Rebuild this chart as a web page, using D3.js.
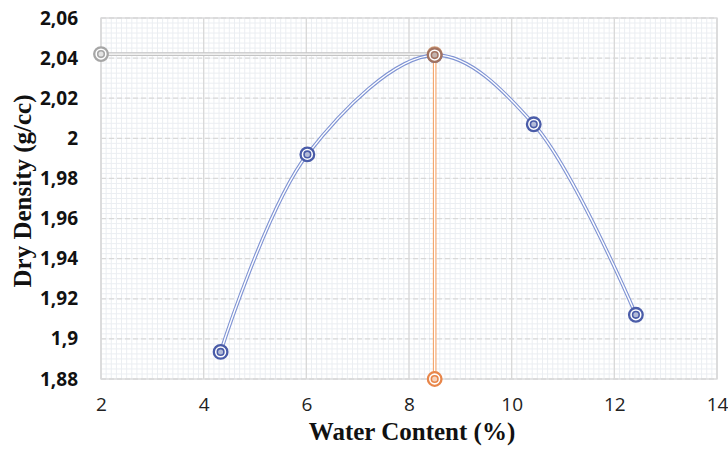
<!DOCTYPE html>
<html>
<head>
<meta charset="utf-8">
<script src="https://cdn.jsdelivr.net/npm/d3@7"></script>
<style>
  body { margin: 0; background: #fff; }
  svg { display: block; }
</style>
</head>
<body>
<svg id="chart" width="728" height="452"></svg>
<script>
'use strict';

// compaction test points
var waterContent = [4.33, 6.02, 8.5, 10.43, 12.42];
var dryDensity = [1.8935, 1.992, 2.0415, 2.007, 1.912];

// optimum water content guide (vertical) and max dry density guide (horizontal)
var omcX = [8.5, 8.5];
var omcY = [2.0415, 1.88];
var mddX = [2, 8.5];
var mddY = [2.042, 2.042];

var xTicks = [2, 4, 6, 8, 10, 12, 14];
var yTicks = [1.88, 1.9, 1.92, 1.94, 1.96, 1.98, 2, 2.02, 2.04, 2.06];

var xTitle = 'Water Content (%)';
var yTitle = 'Dry Density (g/cc)';

var svg = d3.select('#chart'),
    box = { left: 101, right: 717, top: 18, bottom: 379 };

var x = d3.scaleLinear().domain([2, 14]).range([box.left, box.right]),
    y = d3.scaleLinear().domain([1.88, 2.06]).range([box.bottom, box.top]);

function fmt(v){
    return String(+v.toFixed(2)).replace('.', ',');
}

// minor grid
var minorX = d3.range(2, 14.0001, 0.1),
    minorY = d3.range(1.88, 2.0601, 0.0025);

svg.append('g').attr('class', 'minor-x')
    .selectAll('line').data(minorX).enter().append('line')
    .attr('x1', function(d){ return x(d); })
    .attr('x2', function(d){ return x(d); })
    .attr('y1', box.top).attr('y2', box.bottom)
    .attr('stroke', '#ebeef2').attr('stroke-width', 1);

svg.append('g').attr('class', 'minor-y')
    .selectAll('line').data(minorY).enter().append('line')
    .attr('x1', box.left).attr('x2', box.right)
    .attr('y1', function(d){ return y(d); })
    .attr('y2', function(d){ return y(d); })
    .attr('stroke', '#ebeef2').attr('stroke-width', 1);

// major grid: solid verticals, dashed horizontals
svg.append('g')
    .selectAll('line').data(xTicks).enter().append('line')
    .attr('x1', function(d){ return x(d); })
    .attr('x2', function(d){ return x(d); })
    .attr('y1', box.top).attr('y2', box.bottom)
    .attr('stroke', '#d9d9d9').attr('stroke-width', 1.3);

svg.append('g')
    .selectAll('line').data(yTicks).enter().append('line')
    .attr('x1', box.left).attr('x2', box.right)
    .attr('y1', function(d){ return y(d); })
    .attr('y2', function(d){ return y(d); })
    .attr('stroke', '#d9d9d9').attr('stroke-width', 1.3)
    .attr('stroke-dasharray', '5,3');

svg.append('rect')
    .attr('x', box.left).attr('y', box.top)
    .attr('width', box.right - box.left).attr('height', box.bottom - box.top)
    .attr('fill', 'none').attr('stroke', '#d9d9d9').attr('stroke-width', 1.3);

// axes (labels only)
var xAxis = svg.append('g')
    .attr('transform', 'translate(0,' + (box.bottom + 15) + ')')
    .call(d3.axisBottom(x).tickValues(xTicks).tickFormat(fmt).tickSize(0));
xAxis.select('.domain').remove();
xAxis.selectAll('text')
    .attr('font-family', '"Open Sans", "Liberation Sans", sans-serif')
    .attr('font-size', 19).attr('fill', '#222');

var yAxis = svg.append('g')
    .attr('transform', 'translate(' + (box.left - 20) + ',0)')
    .call(d3.axisLeft(y).tickValues(yTicks).tickFormat(fmt).tickSize(0));
yAxis.select('.domain').remove();
yAxis.selectAll('text')
    .attr('font-family', '"Open Sans", "Liberation Sans", sans-serif')
    .attr('font-weight', 'bold')
    .attr('font-size', 19).attr('fill', '#111');

// titles
svg.append('text')
    .attr('x', 412).attr('y', 440)
    .attr('text-anchor', 'middle')
    .attr('font-family', '"Liberation Serif", "Times New Roman", serif')
    .attr('font-weight', 'bold').attr('font-size', 25)
    .attr('fill', '#111')
    .text(xTitle);

svg.append('text')
    .attr('transform', 'translate(31,191) rotate(-90)')
    .attr('text-anchor', 'middle')
    .attr('font-family', '"Liberation Serif", "Times New Roman", serif')
    .attr('font-weight', 'bold').attr('font-size', 25)
    .attr('fill', '#111')
    .text(yTitle);

// double (compound) line helper
function doubleLine( xs, ys, color, curve ){
    var pts = xs.map(function(d, i){ return [d, ys[i]]; }),
        line = d3.line()
            .x(function(d){ return x(d[0]); })
            .y(function(d){ return y(d[1]); })
            .curve(curve || d3.curveLinear);
    var g = svg.append('g');
    g.append('path').datum(pts).attr('d', line)
        .attr('fill', 'none').attr('stroke', color).attr('stroke-width', 3.6);
    g.append('path').datum(pts).attr('d', line)
        .attr('fill', 'none').attr('stroke', '#fff').attr('stroke-width', 1.4);
    return pts;
}

function markers( pts, color, fill, opacity ){
    var g = svg.append('g').attr('opacity', opacity || 1);
    var m = g.selectAll('g').data(pts).enter().append('g')
        .attr('transform', function(d){ return 'translate(' + x(d[0]) + ',' + y(d[1]) + ')'; });
    m.append('circle').attr('r', 6.8)
        .attr('fill', '#fff').attr('stroke', color).attr('stroke-width', 2.3);
    m.append('circle').attr('r', 3.3)
        .attr('fill', fill).attr('stroke', color).attr('stroke-width', 1.6);
}

var mddPts = doubleLine(mddX, mddY, '#c4c4c4');
var omcPts = doubleLine(omcX, omcY, '#f4a46a');
var curvePts = doubleLine(waterContent, dryDensity, '#7f93d3', d3.curveCatmullRom.alpha(0.5));

markers(mddPts.slice(0, 1), '#a6a6a6', '#e3e3e3');
markers(omcPts.slice(1), '#e8864a', '#f7d3bb');
markers(curvePts, '#4a5ca8', '#b4bcd8');
markers(mddPts.slice(1).concat(omcPts.slice(0, 1)), '#c07a48', '#c9b0a0', 0.75);
</script>
</body>
</html>
